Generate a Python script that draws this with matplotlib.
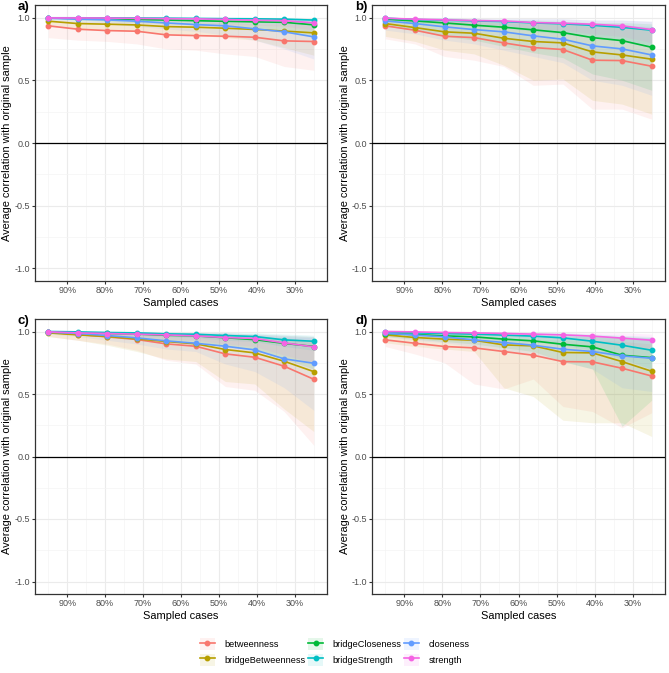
import matplotlib
matplotlib.use("Agg")
import matplotlib.pyplot as plt
from matplotlib.lines import Line2D
from matplotlib.patches import Patch

plt.rcParams['font.family'] = ['Liberation Sans', 'DejaVu Sans']

# ------------- Data ---------------

sampled = [0.95, 0.8722, 0.7944, 0.7167, 0.6389, 0.5611, 0.4833, 0.4056, 0.3278, 0.25]
measures = ['betweenness', 'bridgeBetweenness', 'bridgeCloseness',
            'bridgeStrength', 'closeness', 'strength']
colors = ['#F8766D', '#B79F00', '#00BA38', '#00BFC4', '#619CFF', '#F564E3']
panel_labels = ['a)', 'b)', 'c)', 'd)']
xtick_vals = [0.9, 0.8, 0.7, 0.6, 0.5, 0.4, 0.3]
xtick_labels = ['90%', '80%', '70%', '60%', '50%', '40%', '30%']
ytick_vals = [-1.0, -0.5, 0.0, 0.5, 1.0]
ytick_labels = ['-1.0', '-0.5', '0.0', '0.5', '1.0']

# rows follow measures order
a_mean = [
    [0.934, 0.907, 0.896, 0.891, 0.862, 0.856, 0.851, 0.843, 0.814, 0.809],
    [0.971, 0.952, 0.947, 0.941, 0.928, 0.923, 0.915, 0.905, 0.892, 0.878],
    [0.997, 0.992, 0.990, 0.985, 0.980, 0.975, 0.970, 0.966, 0.962, 0.942],
    [0.998, 0.998, 0.997, 0.996, 0.995, 0.993, 0.991, 0.990, 0.987, 0.980],
    [0.995, 0.987, 0.981, 0.971, 0.957, 0.944, 0.934, 0.910, 0.886, 0.846],
    [0.997, 0.997, 0.996, 0.993, 0.991, 0.990, 0.985, 0.978, 0.975, 0.958],
]
a_lo = [
    [0.84, 0.82, 0.81, 0.79, 0.75, 0.74, 0.71, 0.69, 0.61, 0.58],
    [0.93, 0.91, 0.90, 0.89, 0.87, 0.86, 0.84, 0.82, 0.76, 0.70],
    [0.99, 0.98, 0.97, 0.96, 0.95, 0.94, 0.93, 0.91, 0.89, 0.85],
    [0.99, 0.99, 0.99, 0.98, 0.98, 0.97, 0.97, 0.96, 0.95, 0.94],
    [0.98, 0.96, 0.95, 0.93, 0.91, 0.89, 0.86, 0.82, 0.75, 0.67],
    [0.99, 0.99, 0.98, 0.98, 0.97, 0.96, 0.95, 0.94, 0.93, 0.90],
]
a_hi = [
    [0.98, 0.97, 0.97, 0.97, 0.96, 0.96, 0.96, 0.95, 0.95, 0.94],
    [0.99, 0.99, 0.99, 0.99, 0.98, 0.98, 0.98, 0.98, 0.97, 0.97],
    [1.00, 1.00, 1.00, 1.00, 1.00, 0.99, 0.99, 0.99, 0.99, 0.99],
    [1.00, 1.00, 1.00, 1.00, 1.00, 1.00, 1.00, 1.00, 1.00, 0.99],
    [1.00, 1.00, 1.00, 0.99, 0.99, 0.99, 0.99, 0.98, 0.98, 0.97],
    [1.00, 1.00, 1.00, 1.00, 1.00, 1.00, 0.99, 0.99, 0.99, 0.99],
]

b_mean = [
    [0.934, 0.899, 0.851, 0.840, 0.798, 0.761, 0.745, 0.660, 0.657, 0.612],
    [0.952, 0.920, 0.886, 0.875, 0.835, 0.809, 0.798, 0.726, 0.702, 0.668],
    [0.987, 0.973, 0.957, 0.939, 0.923, 0.902, 0.880, 0.840, 0.816, 0.763],
    [0.995, 0.984, 0.979, 0.973, 0.968, 0.957, 0.950, 0.938, 0.922, 0.899],
    [0.973, 0.952, 0.926, 0.904, 0.886, 0.854, 0.827, 0.774, 0.750, 0.702],
    [0.995, 0.987, 0.981, 0.976, 0.973, 0.960, 0.955, 0.947, 0.934, 0.904],
]
b_lo = [
    [0.83, 0.79, 0.69, 0.66, 0.61, 0.46, 0.47, 0.27, 0.27, 0.19],
    [0.85, 0.81, 0.74, 0.71, 0.62, 0.50, 0.51, 0.34, 0.31, 0.23],
    [0.93, 0.90, 0.85, 0.82, 0.77, 0.72, 0.68, 0.55, 0.50, 0.42],
    [0.98, 0.96, 0.95, 0.93, 0.92, 0.89, 0.87, 0.84, 0.81, 0.76],
    [0.90, 0.87, 0.82, 0.79, 0.74, 0.69, 0.64, 0.50, 0.46, 0.38],
    [0.98, 0.97, 0.96, 0.95, 0.94, 0.91, 0.90, 0.87, 0.85, 0.80],
]
b_hi = [
    [0.99, 0.98, 0.97, 0.97, 0.96, 0.95, 0.95, 0.93, 0.93, 0.92],
    [0.99, 0.98, 0.98, 0.97, 0.96, 0.96, 0.95, 0.94, 0.93, 0.92],
    [1.00, 0.99, 0.99, 0.99, 0.98, 0.98, 0.97, 0.96, 0.96, 0.95],
    [1.00, 1.00, 1.00, 0.99, 0.99, 0.99, 0.99, 0.98, 0.98, 0.97],
    [0.99, 0.99, 0.98, 0.98, 0.97, 0.97, 0.96, 0.95, 0.94, 0.93],
    [1.00, 1.00, 1.00, 0.99, 0.99, 0.99, 0.99, 0.98, 0.98, 0.97],
]

c_mean = [
    [0.995, 0.976, 0.957, 0.936, 0.901, 0.882, 0.821, 0.794, 0.722, 0.618],
    [0.989, 0.973, 0.960, 0.941, 0.920, 0.901, 0.856, 0.829, 0.762, 0.679],
    [0.997, 0.990, 0.985, 0.980, 0.970, 0.965, 0.950, 0.935, 0.905, 0.880],
    [1.000, 0.997, 0.992, 0.989, 0.981, 0.978, 0.968, 0.960, 0.933, 0.922],
    [0.995, 0.984, 0.968, 0.949, 0.925, 0.906, 0.882, 0.853, 0.781, 0.746],
    [0.997, 0.989, 0.984, 0.979, 0.973, 0.965, 0.952, 0.944, 0.909, 0.877],
]
c_lo = [
    [0.96, 0.93, 0.90, 0.85, 0.77, 0.74, 0.56, 0.53, 0.36, 0.09],
    [0.96, 0.93, 0.89, 0.84, 0.78, 0.76, 0.60, 0.58, 0.38, 0.20],
    [0.99, 0.98, 0.97, 0.95, 0.93, 0.92, 0.88, 0.85, 0.78, 0.70],
    [0.99, 0.99, 0.98, 0.97, 0.96, 0.95, 0.93, 0.92, 0.88, 0.85],
    [0.98, 0.96, 0.93, 0.90, 0.86, 0.84, 0.74, 0.68, 0.55, 0.37],
    [0.99, 0.98, 0.97, 0.96, 0.94, 0.93, 0.90, 0.88, 0.81, 0.75],
]
c_hi = [
    [1.00, 1.00, 0.99, 0.99, 0.98, 0.98, 0.97, 0.96, 0.94, 0.92],
    [1.00, 0.99, 0.99, 0.99, 0.98, 0.98, 0.97, 0.96, 0.95, 0.93],
    [1.00, 1.00, 1.00, 1.00, 0.99, 0.99, 0.99, 0.98, 0.97, 0.96],
    [1.00, 1.00, 1.00, 1.00, 1.00, 0.99, 0.99, 0.99, 0.98, 0.97],
    [1.00, 1.00, 0.99, 0.99, 0.99, 0.98, 0.98, 0.97, 0.96, 0.95],
    [1.00, 1.00, 1.00, 0.99, 0.99, 0.99, 0.99, 0.98, 0.97, 0.96],
]

d_mean = [
    [0.933, 0.906, 0.880, 0.869, 0.840, 0.810, 0.759, 0.757, 0.706, 0.644],
    [0.973, 0.952, 0.939, 0.930, 0.893, 0.885, 0.832, 0.829, 0.759, 0.682],
    [0.984, 0.976, 0.965, 0.957, 0.939, 0.925, 0.898, 0.877, 0.810, 0.791],
    [0.997, 0.989, 0.984, 0.979, 0.971, 0.963, 0.949, 0.922, 0.890, 0.850],
    [0.987, 0.971, 0.957, 0.933, 0.912, 0.890, 0.858, 0.840, 0.805, 0.786],
    [1.000, 0.997, 0.992, 0.989, 0.984, 0.979, 0.973, 0.963, 0.947, 0.930],
]
d_lo = [
    [0.88, 0.82, 0.75, 0.58, 0.54, 0.62, 0.40, 0.36, 0.23, 0.35],
    [0.91, 0.88, 0.86, 0.84, 0.55, 0.48, 0.29, 0.27, 0.27, 0.16],
    [0.96, 0.94, 0.92, 0.90, 0.87, 0.84, 0.76, 0.70, 0.24, 0.45],
    [0.98, 0.97, 0.96, 0.95, 0.93, 0.92, 0.89, 0.85, 0.78, 0.70],
    [0.96, 0.93, 0.91, 0.88, 0.85, 0.82, 0.76, 0.70, 0.55, 0.52],
    [0.99, 0.98, 0.98, 0.97, 0.96, 0.95, 0.94, 0.93, 0.90, 0.86],
]
d_hi = [
    [0.98, 0.97, 0.96, 0.96, 0.95, 0.94, 0.93, 0.93, 0.92, 0.90],
    [0.99, 0.99, 0.98, 0.98, 0.97, 0.97, 0.96, 0.96, 0.95, 0.94],
    [1.00, 0.99, 0.99, 0.99, 0.98, 0.98, 0.97, 0.97, 0.96, 0.95],
    [1.00, 1.00, 1.00, 0.99, 0.99, 0.99, 0.99, 0.98, 0.97, 0.96],
    [1.00, 0.99, 0.99, 0.98, 0.98, 0.97, 0.97, 0.96, 0.95, 0.95],
    [1.00, 1.00, 1.00, 1.00, 1.00, 0.99, 0.99, 0.99, 0.99, 0.98],
]

panels = [(a_mean, a_lo, a_hi), (b_mean, b_lo, b_hi),
          (c_mean, c_lo, c_hi), (d_mean, d_lo, d_hi)]

# ------------- Display ---------------

W, H = 669, 673
fig = plt.figure(figsize=(W / 100, H / 100), dpi=100)

# axes boxes in pixels: left, top, right, bottom
boxes = [(35, 5, 327, 281), (372, 5, 665, 281),
         (35, 319, 327, 594), (372, 319, 665, 594)]

for k, (box, (mean, lo, hi)) in enumerate(zip(boxes, panels)):
    l, t, r, b = box
    ax = fig.add_axes([l / W, 1 - b / H, (r - l) / W, (b - t) / H])

    for i, col in enumerate(colors):
        ax.fill_between(sampled, lo[i], hi[i], color=col, alpha=0.1, lw=0, zorder=2)
    ax.axhline(0, color='black', lw=0.9, zorder=3)
    for i, col in enumerate(colors):
        ax.plot(sampled, mean[i], color=col, lw=1.2, marker='o', ms=3.2,
                zorder=4)

    ax.set_xlim(0.985, 0.215)
    ax.set_ylim(-1.1, 1.1)
    ax.set_xticks(xtick_vals)
    ax.set_xticklabels(xtick_labels)
    ax.set_xticks([0.95, 0.85, 0.75, 0.65, 0.55, 0.45, 0.35, 0.25], minor=True)
    ax.set_yticks(ytick_vals)
    ax.set_yticklabels(ytick_labels)
    ax.set_yticks([-0.75, -0.25, 0.25, 0.75], minor=True)
    ax.grid(True, which='major', color='#EBEBEB', lw=0.8, zorder=0)
    ax.grid(True, which='minor', color='#F4F4F4', lw=0.5, zorder=0)
    ax.set_axisbelow(True)
    ax.tick_params(which='both', length=2.2, color='#333333', labelsize=6.5,
                   labelcolor='#4D4D4D', pad=1.5)
    ax.tick_params(which='minor', length=0)
    for s in ax.spines.values():
        s.set_color('#333333')
        s.set_linewidth(0.9)

    fig.text((l + r) / 2 / W, 1 - (b + 22) / H, 'Sampled cases',
             fontsize=7.9, ha='center', va='center')
    fig.text((l - 27.5) / W, 1 - (t + b) / 2 / H,
             'Average correlation with original sample', fontsize=7.9,
             rotation=90, ha='center', va='center')
    fig.text((l - 17) / W, 1 - (t + 2) / H, panel_labels[k], fontsize=9.5,
             fontweight='bold', va='center', ha='left')

handles = []
for col in colors:
    handles.append((Patch(facecolor=col, alpha=0.1, edgecolor='none'),
                    Line2D([], [], color=col, lw=1.2, marker='o', ms=3.2)))
fig.legend(handles, measures, ncol=3, loc='center',
           bbox_to_anchor=(0.5, 1 - 652 / H), frameon=False, fontsize=6.6,
           handlelength=1.7, handleheight=1.65, columnspacing=0.25,
           labelspacing=0.33, handletextpad=1.0, borderpad=0)

fig.savefig('out.png', dpi=100)
